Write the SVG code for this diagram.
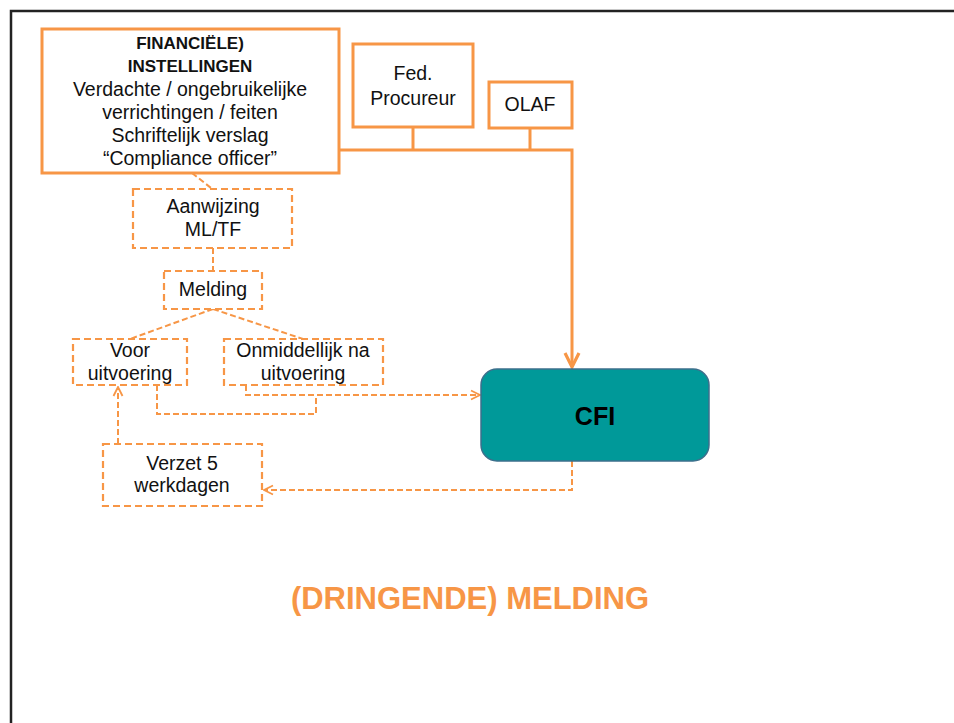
<svg xmlns="http://www.w3.org/2000/svg" width="954" height="723" viewBox="0 0 954 723">
<style>
  text { font-family: "Liberation Sans", Arial, sans-serif; fill: #111; text-anchor: middle; }
  .t { font-size: 19.5px; }
  .b { font-size: 17px; font-weight: bold; }
  .solid { fill: #fff; stroke: #F79646; stroke-width: 3; }
  .dbox { fill: #fff; stroke: #F79646; stroke-width: 2.2; stroke-dasharray: 7 4; }
  .sline { fill: none; stroke: #F79646; stroke-width: 3; }
  .dline { fill: none; stroke: #F79646; stroke-width: 2; stroke-dasharray: 6 3; }
</style>
<defs>
  <marker id="openArrow" markerUnits="userSpaceOnUse" viewBox="0 0 12 12" refX="11" refY="6" markerWidth="12" markerHeight="12" orient="auto">
    <path d="M2,1.5 L11,6 L2,10.5" fill="none" stroke="#F79646" stroke-width="1.8"/>
  </marker>
  <marker id="solidArrow" markerUnits="userSpaceOnUse" viewBox="0 0 18 18" refX="16" refY="9" markerWidth="18" markerHeight="18" orient="auto">
    <path d="M2,2 L16,9 L2,16" fill="none" stroke="#F79646" stroke-width="3.2"/>
  </marker>
</defs>
<rect width="954" height="723" fill="#fff"/>
<path d="M11,723 V11 H954" fill="none" stroke="#222" stroke-width="2.5"/>

<g id="connectors">
  <path class="sline" d="M340,150 H572 V367" marker-end="url(#solidArrow)"/>
  <path class="sline" d="M413,127 V150"/>
  <path class="sline" d="M530,128 V150"/>
  <path class="dline" d="M192,173 L211,188"/>
  <path class="dline" d="M213,248 V271"/>
  <path class="dline" d="M213,309 L130,339"/>
  <path class="dline" d="M213,309 L303,339"/>
  <path class="dline" d="M157,385 V414 H316 V395"/>
  <path class="dline" d="M246,385 V395 H480" marker-end="url(#openArrow)"/>
  <path class="dline" d="M118,444 V387" marker-end="url(#openArrow)"/>
  <path class="dline" d="M572,461 V490 H264" marker-end="url(#openArrow)"/>
</g>

<g id="financiele-instellingen">
  <rect class="solid" x="42" y="29" width="297" height="144"/>
  <text class="b" x="190" y="49">FINANCIËLE)</text>
  <text class="b" x="190" y="72">INSTELLINGEN</text>
  <text class="t" x="190" y="96">Verdachte / ongebruikelijke</text>
  <text class="t" x="190" y="119">verrichtingen / feiten</text>
  <text class="t" x="190" y="142">Schriftelijk verslag</text>
  <text class="t" x="190" y="165">“Compliance officer”</text>
</g>

<g id="fed-procureur">
  <rect class="solid" x="353" y="44" width="120" height="83"/>
  <text class="t" x="413" y="80">Fed.</text>
  <text class="t" x="413" y="105">Procureur</text>
</g>

<g id="olaf">
  <rect class="solid" x="489" y="82" width="83" height="46"/>
  <text class="t" x="530" y="111">OLAF</text>
</g>

<g id="aanwijzing">
  <rect class="dbox" x="133" y="189" width="159" height="59"/>
  <text class="t" x="213" y="213">Aanwijzing</text>
  <text class="t" x="213" y="236">ML/TF</text>
</g>

<g id="melding">
  <rect class="dbox" x="164" y="271" width="98" height="38"/>
  <text class="t" x="213" y="296">Melding</text>
</g>

<g id="voor-uitvoering">
  <rect class="dbox" x="73" y="339" width="114" height="46"/>
  <text class="t" x="130" y="357">Voor</text>
  <text class="t" x="130" y="380">uitvoering</text>
</g>

<g id="na-uitvoering">
  <rect class="dbox" x="224" y="339" width="159" height="46"/>
  <text class="t" x="303" y="357">Onmiddellijk na</text>
  <text class="t" x="303" y="380">uitvoering</text>
</g>

<g id="verzet">
  <rect class="dbox" x="103" y="444" width="159" height="62"/>
  <text class="t" x="182" y="470">Verzet 5</text>
  <text class="t" x="182" y="492">werkdagen</text>
</g>

<g id="cfi">
  <rect x="481" y="369" width="228" height="92" rx="16" ry="16" fill="#009999" stroke="#3D6F8C" stroke-width="1.5"/>
  <text x="595" y="425" style="font-size:25px;font-weight:bold;fill:#000">CFI</text>
</g>

<g id="title">
  <text x="470" y="609" style="font-size:31px;font-weight:bold;fill:#F79646">(DRINGENDE) MELDING</text>
</g>
</svg>
